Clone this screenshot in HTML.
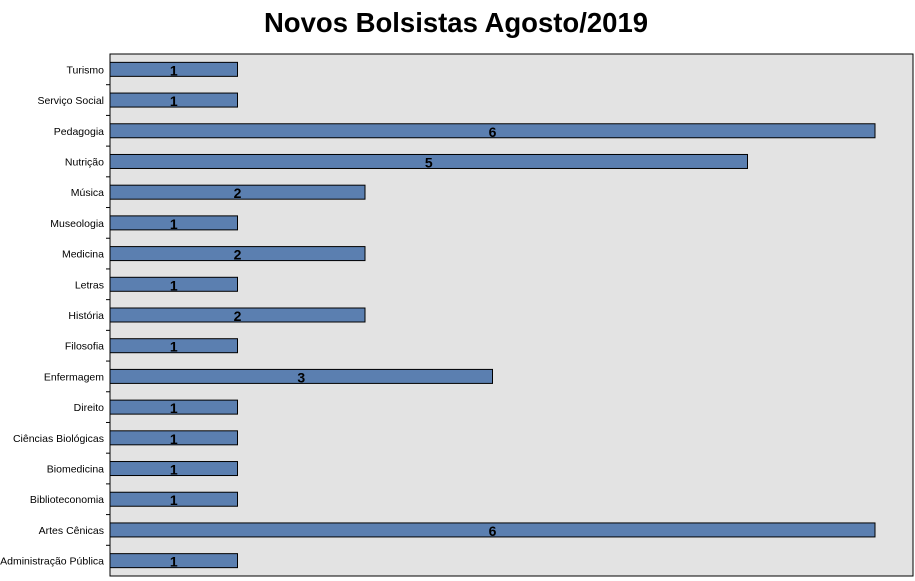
<!DOCTYPE html>
<html><head><meta charset="utf-8"><style>
body{margin:0;background:#fff;}
svg{display:block;font-family:"Liberation Sans",sans-serif;}
</style></head><body>
<svg width="915" height="581" viewBox="0 0 915 581" xmlns="http://www.w3.org/2000/svg">
<text x="456" y="32" text-anchor="middle" font-size="27.5" font-weight="bold" fill="#000">Novos Bolsistas Agosto/2019</text>
<rect x="110" y="54" width="803" height="522" fill="#e3e3e3" stroke="#000" stroke-width="1"/>
<g id="bars"></g>
</svg>
<script>
var d=[["Turismo",1],["Serviço Social",1],["Pedagogia",6],["Nutrição",5],["Música",2],["Museologia",1],["Medicina",2],["Letras",1],["História",2],["Filosofia",1],["Enfermagem",3],["Direito",1],["Ciências Biológicas",1],["Biomedicina",1],["Biblioteconomia",1],["Artes Cênicas",6],["Administração Pública",1]];
var g=document.getElementById('bars'),s='',step=522/17;
d.forEach(function(e,i){var c=54+step*(i+0.5),w=127.5*e[1];
s+='<rect x="110" y="'+(c-7)+'" width="'+w+'" height="14" fill="#5b7fb0" stroke="#000" stroke-width="1"/>';
s+='<text x="'+(110+w/2)+'" y="'+(c+6)+'" text-anchor="middle" font-size="14" font-weight="bold">'+e[1]+'</text>';
s+='<text x="104" y="'+(c+4)+'" text-anchor="end" font-size="10.5">'+e[0]+'</text>';
if(i>0)s+='<line x1="106" x2="110" y1="'+(54+step*i)+'" y2="'+(54+step*i)+'" stroke="#000"/>';});
g.innerHTML=s;
</script>
</body></html>
